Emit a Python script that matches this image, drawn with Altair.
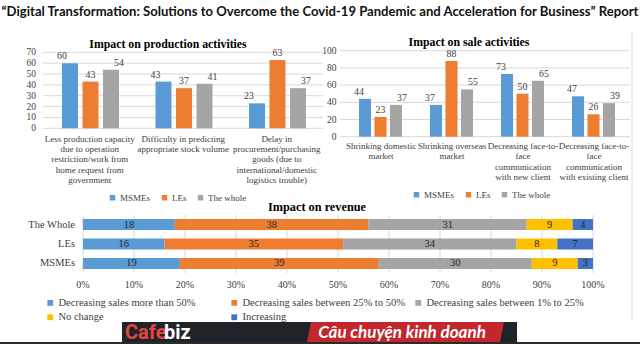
import altair as alt
import pandas as pd

# ---------------- data ----------------
main_title = "\u201cDigital Transformation: Solutions to Overcome the Covid-19 Pandemic and Acceleration for Business\u201d Report"

series = ["MSMEs", "LEs", "The whole"]
series_colors = ["#5B9BD5", "#ED7D31", "#A5A5A5"]

prod_title = "Impact on production activities"
prod_cats = [
    "Less production capacity|due to operation|restriction/work from|home request from|government",
    "Difficulty in predicting|appropriate stock volume",
    "Delay in|procurement/purchasing|goods (due to|international/domestic|logistics trouble)",
]
prod_msmes = [60, 43, 23]
prod_les = [43, 37, 63]
prod_whole = [54, 41, 37]
prod_ticks = [0, 10, 20, 30, 40, 50, 60, 70]

sale_title = "Impact on sale activities"
sale_cats = [
    "Shrinking domestic|market",
    "Shrinking overseas|market",
    "Decreasing face-to-|face|communication|with new client",
    "Decreasing face-to-|face|communication|with existing  client",
]
sale_msmes = [44, 37, 73, 47]
sale_les = [23, 88, 50, 26]
sale_whole = [37, 55, 65, 39]
sale_ticks = [0, 20, 40, 60, 80, 100]

rev_title = "Impact on revenue"
rev_groups = ["The Whole", "LEs", "MSMEs"]
rev_segments = [
    "Decreasing sales more than 50%",
    "Decreasing sales between 25% to 50%",
    "Decreasing sales between 1% to 25%",
    "No change",
    "Increasing",
]
rev_colors = ["#5B9BD5", "#ED7D31", "#A5A5A5", "#FFC000", "#4472C4"]
rev_more50 = [18, 16, 19]
rev_25_50 = [38, 35, 39]
rev_1_25 = [31, 34, 30]
rev_nochange = [9, 8, 9]
rev_increase = [4, 7, 3]
rev_ticks = [0, 10, 20, 30, 40, 50, 60, 70, 80, 90, 100]

footer_brand_a = "Cafe"
footer_brand_b = "biz"
footer_slogan = "C\u00e2u chuy\u1ec7n kinh doanh"

# ---------------- styles ----------------
SERIF = "Liberation Serif, Times New Roman, serif"
SANS_TITLE = "Lato, sans-serif"
GRID = "#d9d9d9"
LABEL = "#404040"

one = pd.DataFrame({"a": [0]})


def txt(text, x, y, **kw):
    return alt.Chart(one).mark_text(**kw).encode(
        x=alt.value(x), y=alt.value(y), text=alt.value(text))


def grouped_panel(cats, lists, ticks, ymax, xr, yr, offr, grid_x, tick_x,
                  label_y, title, title_xy, legend_xy):
    rows = []
    for i, c in enumerate(cats):
        for s, vals in zip(series, lists):
            rows.append({"cat": c, "series": s, "v": vals[i]})
    df = pd.DataFrame(rows)
    xs = alt.Scale(domain=cats, range=xr, paddingInner=0, paddingOuter=0)
    ys = alt.Scale(domain=[0, ymax], range=yr, nice=False, zero=True)
    os_ = alt.Scale(domain=series, range=offr, paddingInner=0.22, paddingOuter=0)
    cs = alt.Scale(domain=series, range=series_colors)
    tdf = pd.DataFrame({"t": ticks})

    grid = alt.Chart(tdf).mark_rule(color=GRID, strokeWidth=1).encode(
        y=alt.Y("t:Q", scale=ys, axis=None),
        x=alt.value(grid_x[0]), x2=alt.value(grid_x[1]))
    tl = alt.Chart(tdf).mark_text(align="right", baseline="middle", font=SERIF,
                                  fontSize=9.5, color=LABEL).encode(
        y=alt.Y("t:Q", scale=ys, axis=None), x=alt.value(tick_x), text=alt.Text("t:Q"))

    enc = dict(
        x=alt.X("cat:N", scale=xs, axis=None),
        xOffset=alt.XOffset("series:N", scale=os_),
        y=alt.Y("v:Q", scale=ys, axis=None),
    )
    bars = alt.Chart(df).mark_bar().encode(
        color=alt.Color("series:N", scale=cs, legend=alt.Legend(
            orient="none", legendX=legend_xy[0], legendY=legend_xy[1],
            direction="horizontal", title=None, symbolType="square",
            symbolSize=30, symbolStrokeWidth=0, labelFont=SERIF,
            labelFontSize=9, labelColor=LABEL, columnPadding=9,
            labelOffset=3, padding=0,
            labelExpr="datum.label == 'LEs' ? '\u00a0\u00a0\u00a0\u00a0\u00a0LEs' : datum.label")),
        **enc)
    vals = alt.Chart(df).mark_text(baseline="middle", dy=-7, font=SERIF,
                                   fontSize=9.8, color=LABEL).encode(
        text=alt.Text("v:Q"), **enc)
    cdf = pd.DataFrame({"cat": cats})
    xl = alt.Chart(cdf).mark_text(baseline="top", lineBreak="|", lineHeight=10.4,
                                  font=SERIF, fontSize=9, color=LABEL).encode(
        x=alt.X("cat:N", scale=xs, axis=None), y=alt.value(label_y), text="cat:N")
    tt = txt(title, title_xy[0], title_xy[1], font=SERIF, fontSize=11.8,
             fontWeight="bold", color="#000000", baseline="middle", align="center")
    return [grid, tl, bars, vals, xl, tt]


# ---------------- top panels ----------------
left = grouped_panel(prod_cats, [prod_msmes, prod_les, prod_whole], prod_ticks, 70,
                     [43, 323.5], [128.3, 52.3], [19, 76], [43, 323], 36,
                     134.5, prod_title, (168, 44), (108, 193))
right = grouped_panel(sale_cats, [sale_msmes, sale_les, sale_whole], sale_ticks, 100,
                      [345.5, 629.5], [136.7, 50.7], [13.5, 56.5], [340, 630], 336.5,
                      142, sale_title, (469, 42), (412, 190))

# ---------------- bottom panel ----------------
rev_lists = [rev_more50, rev_25_50, rev_1_25, rev_nochange, rev_increase]
rrows = []
for gi, g in enumerate(rev_groups):
    for k, (seg, vals) in enumerate(zip(rev_segments, rev_lists)):
        rrows.append({"group": g, "seg": seg, "k": k, "v": vals[gi]})
rdf = pd.DataFrame(rrows)

rx = alt.Scale(domain=[0, 100], range=[83, 593], nice=False, zero=False)
ry = alt.Scale(domain=rev_groups, range=[215, 273], paddingInner=0.436, paddingOuter=0.205)

rbase = alt.Chart(rdf).transform_stack(
    stack="v", groupby=["group"], sort=[alt.SortField("k", order="ascending")],
    as_=["x0", "x1"]).transform_calculate(mid="(datum.x0 + datum.x1) / 2")

rtdf = pd.DataFrame({"t": rev_ticks})
rgrid = alt.Chart(rtdf).mark_rule(color=GRID, strokeWidth=1).encode(
    x=alt.X("t:Q", scale=rx, axis=None), y=alt.value(215), y2=alt.value(273))
rtl = alt.Chart(rtdf).transform_calculate(lab="datum.t + '%'").mark_text(
    align="center", baseline="middle", font=SERIF, fontSize=10, color=LABEL).encode(
    x=alt.X("t:Q", scale=rx, axis=None), y=alt.value(285), text="lab:N")
rbars = rbase.mark_bar().encode(
    x=alt.X("x0:Q", scale=rx, axis=None), x2="x1:Q",
    y=alt.Y("group:N", scale=ry, axis=None),
    color=alt.Color("seg:N", scale=alt.Scale(domain=rev_segments, range=rev_colors),
                    legend=alt.Legend(
                        orient="none", legendX=45, legendY=297.5, direction="horizontal",
                        columns=3, gridAlign="all", title=None, symbolType="square",
                        symbolSize=34, symbolStrokeWidth=0, labelFont=SERIF,
                        labelFontSize=10.5, labelColor=LABEL, labelLimit=300,
                        columnPadding=8, rowPadding=3.5, labelOffset=3, padding=0)))
rtext = rbase.mark_text(align="center", baseline="middle", font=SERIF, fontSize=10.5,
                        color="#262626").encode(
    x=alt.X("mid:Q", scale=rx, axis=None), y=alt.Y("group:N", scale=ry, axis=None),
    text=alt.Text("v:Q"))
rgl = alt.Chart(pd.DataFrame({"group": rev_groups})).mark_text(
    align="right", baseline="middle", font=SERIF, fontSize=10.5, color=LABEL).encode(
    y=alt.Y("group:N", scale=ry, axis=None), x=alt.value(75), text="group:N")
rtt = txt(rev_title, 317, 207, font=SERIF, fontSize=12.3, fontWeight="bold",
          color="#000000", baseline="middle", align="center")

bottom = [rgrid, rtl, rbars, rtext, rgl, rtt]

# ---------------- decorations ----------------
title_mark = txt(main_title, 320, 12, font=SANS_TITLE, fontSize=13.1, fontWeight="bold",
                 color="#111111", baseline="middle", align="center")
border = alt.Chart(one).mark_rule(color="#e3e3e3", strokeWidth=1).encode(
    x=alt.value(632), y=alt.value(30), y2=alt.value(321))
banner = alt.Chart(one).mark_rect(color="#1e2429").encode(
    x=alt.value(122), x2=alt.value(517), y=alt.value(322), y2=alt.value(342))
red = alt.Chart(one).mark_point(
    shape="M -94 -10 L 99 -10 L 95 10 L -98 10 Z", size=4, filled=True,
    color="#c1272d", opacity=1, strokeWidth=0).encode(x=alt.value(405), y=alt.value(332))
brand_a = txt(footer_brand_a, 125, 333, font="Roboto", fontSize=20, fontWeight="bold",
              color="#e8453c", baseline="middle", align="left")
brand_b = txt(footer_brand_b, 164, 333, font="Roboto", fontSize=20, fontWeight="bold",
              color="#ffffff", baseline="middle", align="left")
slogan = txt(footer_slogan, 402, 333, font="Lato", fontSize=17, fontWeight="bold",
             fontStyle="italic", color="#ffffff", baseline="middle", align="center")
baseline_rule = alt.Chart(one).mark_rect(color="#2b2b2b").encode(
    x=alt.value(0), x2=alt.value(640), y=alt.value(342), y2=alt.value(344))

layers = [title_mark, border] + left + right + bottom + [banner, red, brand_a, brand_b, slogan, baseline_rule]

chart = alt.layer(*layers).resolve_scale(
    x="independent", y="independent", color="independent", xOffset="independent"
).resolve_legend(color="independent").properties(
    width=640, height=344, padding=0,
    autosize=alt.AutoSizeParams(type="none"),
    background="#ffffff",
).configure_view(stroke=None)

chart.save("out.html", embed_options={"renderer": "svg", "actions": False})
